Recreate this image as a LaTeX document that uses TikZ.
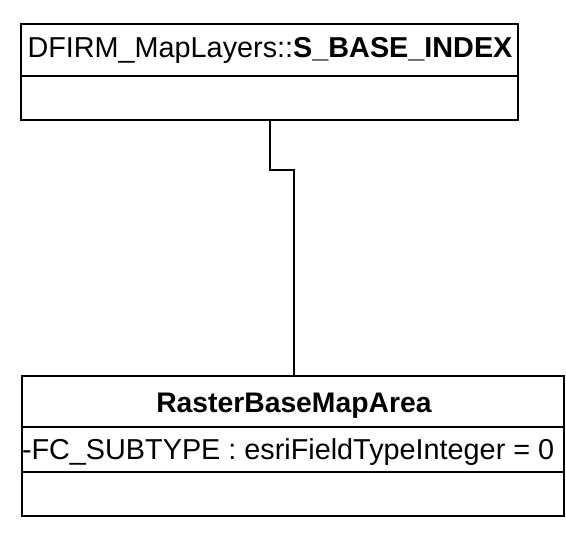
\documentclass[tikz,border=0pt]{standalone}
\usepackage{fontspec}
\setmainfont{Liberation Sans}
\begin{document}
\begin{tikzpicture}[x=1pt,y=-1pt,
  comp/.style={draw=black, line width=1.9pt, inner sep=0pt, outer sep=0pt, anchor=north west, fill=white},
  lbl/.style={inner sep=0pt, outer sep=0pt, font=\fontsize{28.8}{30}\selectfont},
  conn/.style={draw=black, line width=1.9pt}
]
\useasboundingbox (0,0) rectangle (566,533);
% upper class
\node[comp, minimum width=497pt, minimum height=52pt] (tophead) at (21,24) {};
\node[comp, minimum width=497pt, minimum height=44pt] (topbody) at (21,76) {};
\node[lbl, anchor=base] (toptitle) at (270,57) {DFIRM\_MapLayers::\textbf{S\_BASE\_INDEX}};
% lower class
\node[comp, minimum width=542pt, minimum height=51pt] (bothead) at (22,376) {};
\node[comp, minimum width=542pt, minimum height=45pt] (botattr) at (22,427) {};
\node[comp, minimum width=542pt, minimum height=44pt] (botops) at (22,472) {};
\node[lbl, anchor=base, font=\fontsize{28.3}{30}\selectfont] (bottitle) at (294,412) {\textbf{RasterBaseMapArea}};
\node[lbl, anchor=base west] (attr) at (22,459) {-FC\_SUBTYPE : esriFieldTypeInteger = 0};
% connector
\coordinate (bendA) at (270,170);
\coordinate (bendB) at (294,170);
\draw[conn] (topbody.south -| bendA) -- (bendA) -- (bendB) -- (bothead.north -| bendB);
\end{tikzpicture}
\end{document}
